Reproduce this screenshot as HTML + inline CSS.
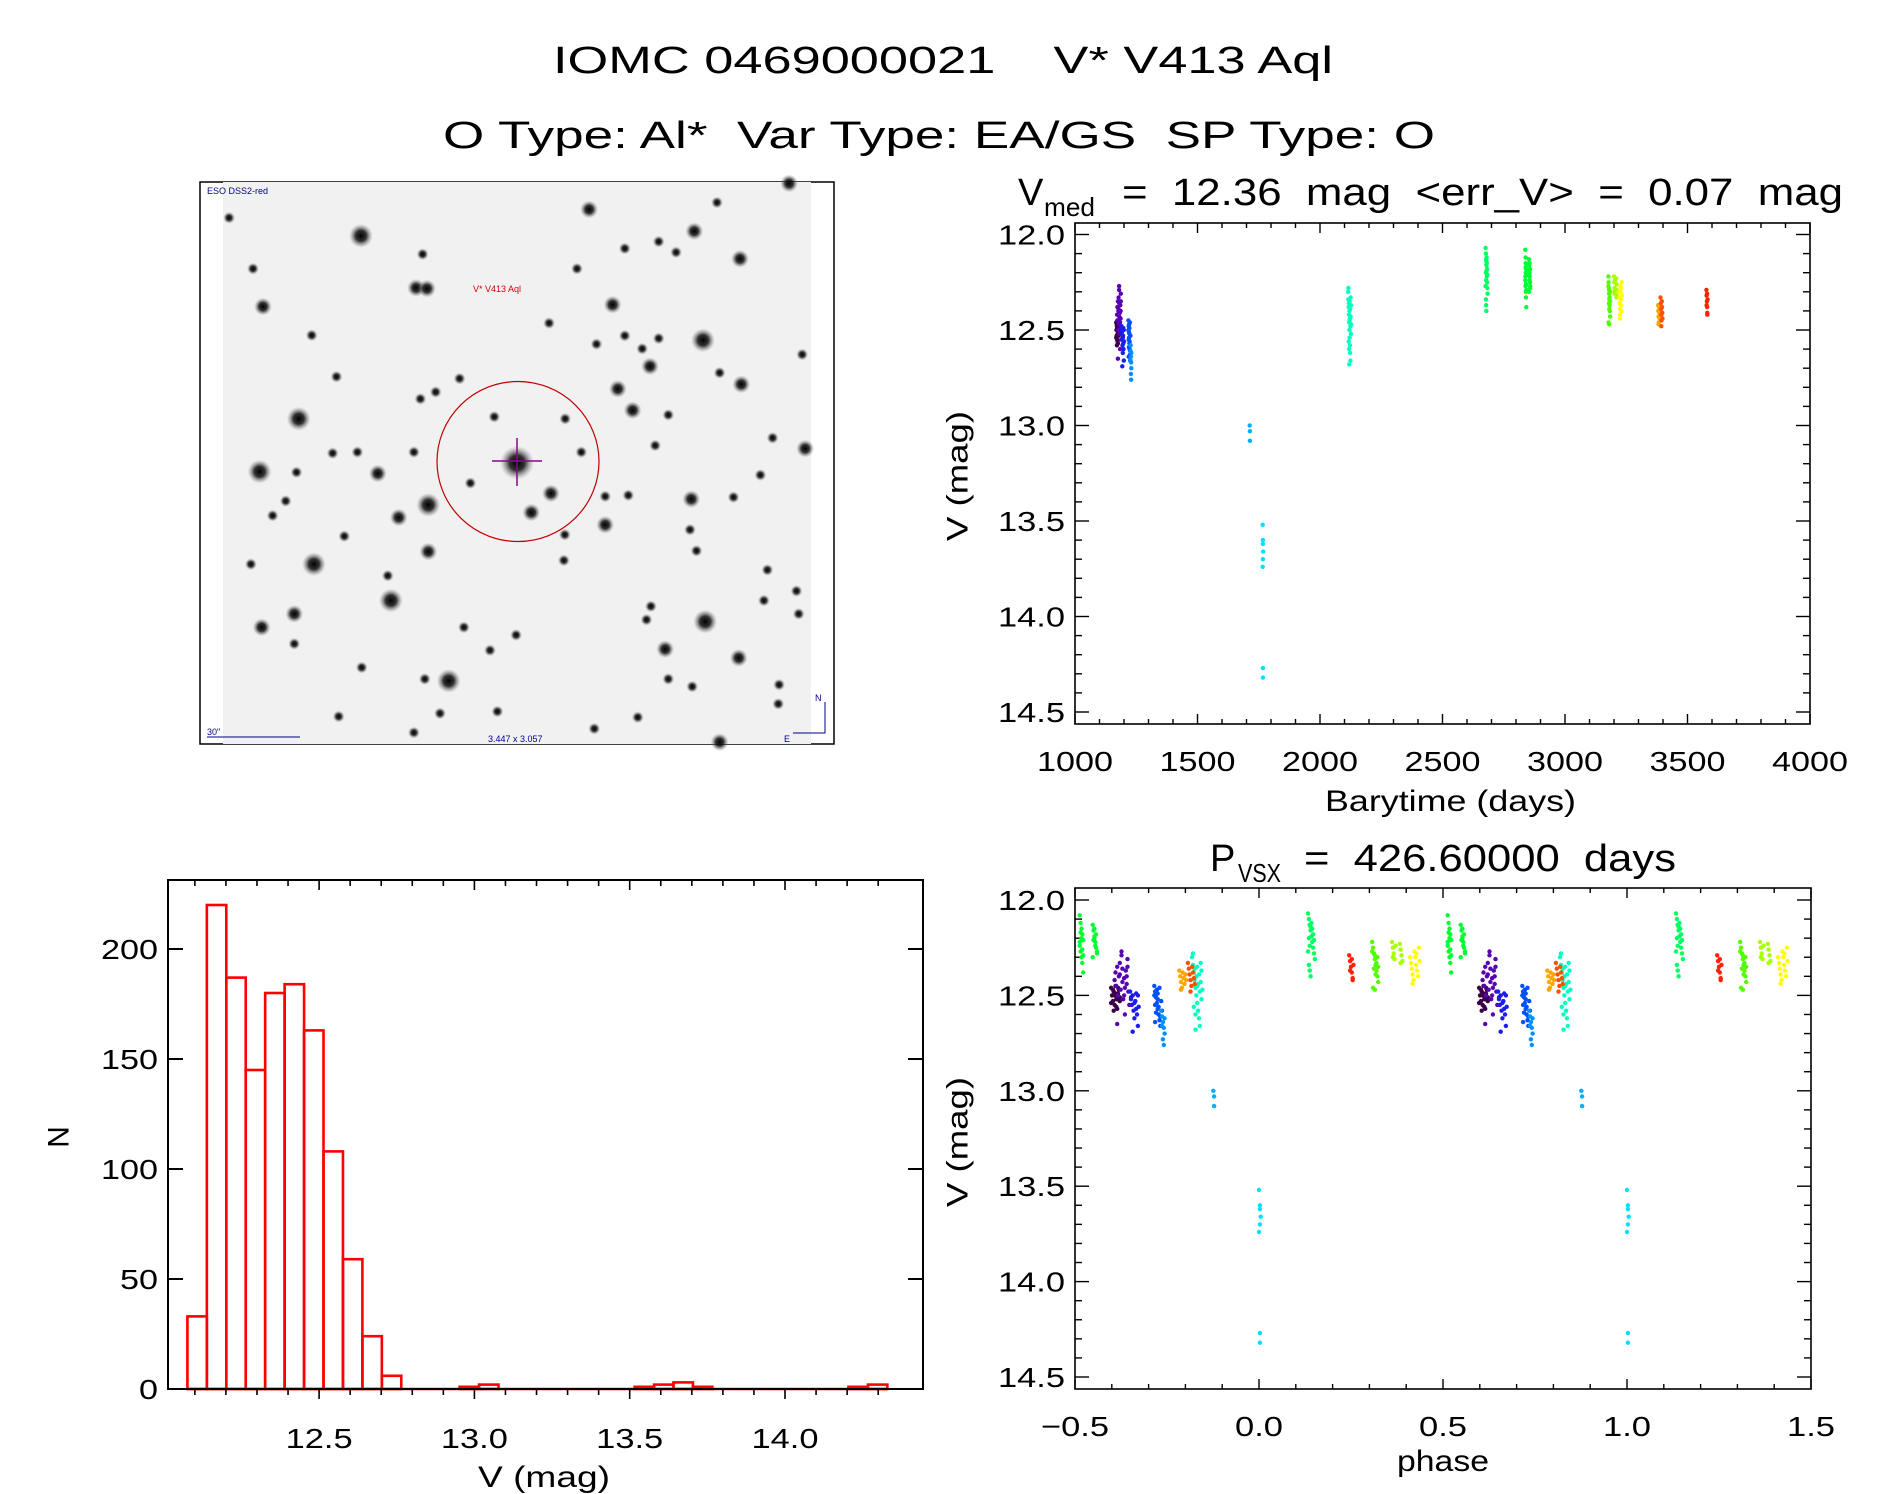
<!DOCTYPE html>
<html><head><meta charset="utf-8"><title>IOMC 0469000021 V* V413 Aql</title>
<style>html,body{margin:0;padding:0;background:#fff}svg{display:block}text{font-family:"Liberation Sans",sans-serif;fill:#000;white-space:pre}</style>
</head><body>
<svg id="fig" xmlns="http://www.w3.org/2000/svg" width="1889" height="1494" viewBox="0 0 1889 1494">
<defs>
<radialGradient id="star"><stop offset="0" stop-color="#000" stop-opacity="1"/><stop offset="0.45" stop-color="#111" stop-opacity="0.85"/><stop offset="1" stop-color="#888" stop-opacity="0"/></radialGradient>
</defs>
<rect width="1889" height="1494" fill="#fff"/>
<text x="553" y="73" font-size="38" textLength="780" lengthAdjust="spacingAndGlyphs" xml:space="preserve">IOMC 0469000021    V* V413 Aql</text>
<text x="443" y="148" font-size="38" textLength="992" lengthAdjust="spacingAndGlyphs" xml:space="preserve">O Type: Al*  Var Type: EA/GS  SP Type: O</text>

<g id="finder">
<rect x="200" y="182" width="634" height="562" fill="#fff" stroke="#000" stroke-width="1.5"/>
<rect x="223" y="182" width="588" height="562" fill="#f1f1f1"/>
<g id="stars"></g>
<ellipse cx="518" cy="461.5" rx="81" ry="80" fill="none" stroke="#c00000" stroke-width="1.2"/>
<line x1="492" y1="461" x2="542" y2="461" stroke="#900090" stroke-width="1.5"/>
<line x1="517" y1="438" x2="517" y2="486" stroke="#900090" stroke-width="1.5"/>
<text x="207" y="194" font-size="9" style="fill:#00008b">ESO DSS2-red</text>
<text x="473" y="292" font-size="9" style="fill:#d00000">V* V413 Aql</text>
<text x="207" y="735" font-size="9" style="fill:#00008b">30"</text>
<line x1="207" y1="737" x2="300" y2="737" stroke="#00008b" stroke-width="1"/>
<text x="488" y="742" font-size="9" style="fill:#00008b">3.447 x 3.057</text>
<text x="815" y="701" font-size="9" style="fill:#00008b">N</text>
<text x="784" y="742" font-size="9" style="fill:#00008b">E</text>
<polyline points="825,702 825,733 793,733" fill="none" stroke="#00008b" stroke-width="1"/>
</g>

<g id="lc"></g>
<g id="ph"></g>
<g id="hist"></g>
</svg>
<script>
// ---- light curve data: [barytime, V] per season ----
const s1 = [[1168,12.46],[1169,12.50],[1170,12.53],[1171,12.48],[1172,12.55],[1173,12.45],[1174,12.52],[1175,12.57],[1176,12.49],[1177,12.47],[1178,12.51],[1168,12.54],[1170,12.47],[1172,12.50],[1174,12.56],[1176,12.46],[1178,12.53],[1171,12.58],[1173,12.49],[1175,12.52]];
const s2 = [[1172,12.42],[1173,12.38],[1174,12.45],[1175,12.35],[1176,12.50],[1177,12.40],[1178,12.33],[1179,12.47],[1180,12.29],[1181,12.36],[1182,12.52],[1183,12.41],[1184,12.60],[1185,12.37],[1186,12.44],[1187,12.31],[1188,12.48],[1189,12.55],[1175,12.65],[1178,12.39],[1181,12.43],[1184,12.46],[1187,12.35],[1180,12.27],[1183,12.50],[1186,12.40]];
const s3 = [[1190,12.48],[1191,12.52],[1192,12.55],[1193,12.50],[1194,12.58],[1195,12.62],[1196,12.53],[1197,12.49],[1198,12.60],[1199,12.66],[1200,12.56],[1191,12.51],[1193,12.69],[1195,12.54],[1197,12.57],[1199,12.50]];
const s4 = [[1218,12.45],[1219,12.48],[1220,12.51],[1221,12.54],[1222,12.57],[1223,12.60],[1224,12.63],[1225,12.66],[1218,12.50],[1219,12.55],[1220,12.59],[1221,12.47],[1222,12.52],[1223,12.56],[1224,12.46],[1225,12.61],[1226,12.53],[1227,12.58],[1219,12.64],[1222,12.49]];
const s5 = [[1226,12.58],[1227,12.61],[1228,12.64],[1229,12.67],[1230,12.70],[1228,12.73],[1229,12.76],[1227,12.66],[1230,12.62]];
const s6 = [[1713,13.00],[1714,13.03],[1714,13.08]];
const s7 = [[1766,13.52],[1767,13.60],[1767,13.62],[1768,13.66],[1767,13.70],[1766,13.74],[1767,14.27],[1767,14.32]];
const s8 = [[2115,12.30],[2116,12.34],[2117,12.38],[2118,12.42],[2119,12.46],[2120,12.50],[2121,12.54],[2122,12.58],[2123,12.62],[2124,12.66],[2116,12.28],[2118,12.36],[2120,12.40],[2122,12.44],[2124,12.48],[2126,12.52],[2117,12.56],[2119,12.60],[2121,12.35],[2123,12.39],[2125,12.43],[2127,12.47],[2126,12.37],[2125,12.33],[2119,12.68],[2121,12.45]];
const s9 = [[2676,12.07],[2677,12.10],[2678,12.13],[2679,12.16],[2680,12.19],[2681,12.22],[2682,12.25],[2683,12.28],[2684,12.31],[2677,12.34],[2678,12.37],[2679,12.40],[2680,12.12],[2681,12.15],[2682,12.18],[2683,12.21],[2678,12.24],[2676,12.27],[2677,12.20],[2679,12.14]];
const s10 = [[2838,12.08],[2839,12.12],[2840,12.15],[2841,12.18],[2842,12.21],[2838,12.24],[2839,12.27],[2840,12.30],[2841,12.33],[2842,12.38],[2840,12.20],[2839,12.17],[2841,12.26],[2838,12.22],[2842,12.29],[2853,12.13],[2854,12.16],[2855,12.19],[2856,12.22],[2857,12.25],[2858,12.28],[2853,12.30],[2855,12.15],[2857,12.18],[2854,12.21],[2856,12.24],[2858,12.27],[2855,12.20]];
const s11 = [[3177,12.22],[3178,12.25],[3179,12.28],[3180,12.31],[3181,12.34],[3182,12.37],[3183,12.40],[3184,12.43],[3178,12.46],[3180,12.29],[3182,12.33],[3179,12.36],[3181,12.39],[3183,12.30],[3177,12.27],[3184,12.35],[3180,12.47]];
const s12 = [[3200,12.22],[3201,12.25],[3202,12.28],[3203,12.31],[3204,12.24],[3209,12.23],[3210,12.26],[3211,12.29],[3212,12.32],[3210,12.33],[3201,12.30]];
const s13 = [[3221,12.30],[3222,12.33],[3223,12.36],[3224,12.39],[3225,12.42],[3226,12.27],[3227,12.30],[3228,12.34],[3229,12.37],[3230,12.40],[3231,12.25],[3232,12.32],[3224,12.44],[3228,12.28]];
const s14 = [[3380,12.37],[3381,12.40],[3382,12.43],[3383,12.46],[3384,12.38],[3385,12.41],[3386,12.44],[3387,12.39],[3388,12.42],[3382,12.47]];
const s15 = [[3390,12.33],[3391,12.36],[3392,12.39],[3393,12.42],[3394,12.45],[3395,12.35],[3396,12.38],[3397,12.41],[3398,12.44],[3393,12.48]];
const s16 = [[3577,12.29],[3578,12.32],[3579,12.35],[3580,12.38],[3581,12.41],[3582,12.34],[3578,12.37],[3580,12.31],[3581,12.42]];
const seasons = [s1,s2,s3,s4,s5,s6,s7,s8,s9,s10,s11,s12,s13,s14,s15,s16];
const seasonColors = ["#3c0048","#5a00b4","#1c1cf0","#0050ff","#0090ff","#00b0ff","#00e0ff","#00ffc0","#00ff60","#00ff30","#50ff00","#a8ff00","#ffff00","#ffa500","#ff5000","#ff2000"];
const period = [426.6];
const epoch = [1766];
// ---- histogram data ----
const histStart = [12.076];
const histWidth = [0.0626];
const histCounts = [33,220,187,145,180,184,163,108,59,24,6,0,0,0,1,2,0,0,0,0,0,0,0,1,2,3,1,0,0,0,0,0,0,0,1,2];
// ---- tick labels ----
const lcXTicks = ["1000","1500","2000","2500","3000","3500","4000"];
const magTicks = ["12.0","12.5","13.0","13.5","14.0","14.5"];
const phXTicks = ["-0.5","0.0","0.5","1.0","1.5"];
const histXTicks = ["12.5","13.0","13.5","14.0"];
const histYTicks = ["0","50","100","150","200"];
// ---- finder chart stars (zoom-space coords, size class) ----
const starList = [[393,172,3],[918,103,2],[1160,160,2],[1212,85,1],[1378,35,2],[535,220,1],[1265,232,2],[520,308,2],[545,310,2],[168,357,2],[972,352,2],[826,400,1],[1180,445,3],[1408,482,1],[280,432,1],[1058,513,2],[984,572,2],[1268,560,2],[1018,628,2],[1100,640,1],[530,598,1],[565,580,1],[250,650,3],[337,540,1],[1340,700,1],[1415,728,2],[515,737,1],[385,737,1],[328,740,1],[160,788,3],[432,793,2],[245,790,1],[752,765,4],[645,818,1],[830,845,2],[900,737,1],[548,875,3],[480,908,2],[785,895,2],[955,853,1],[1008,850,1],[1153,860,2],[1312,797,1],[1250,855,1],[955,927,2],[862,953,1],[548,997,2],[355,957,1],[220,865,1],[190,903,1],[285,1030,3],[165,1195,2],[240,1160,2],[240,1238,1],[462,1125,3],[1185,1180,3],[1093,1252,2],[1262,1275,2],[1165,995,1],[1150,940,1],[595,1335,3],[540,1330,1],[395,1300,1],[1100,1330,1],[1155,1350,1],[515,1470,1],[342,1428,1],[1218,1495,2],[1353,1395,1],[1328,1045,1],[1060,1140,1],[1320,1125,1],[1400,1160,1],[90,125,1],[145,258,1],[890,258,1],[1000,205,1],[1078,187,1],[1118,215,1],[1040,467,1],[1078,440,1],[1000,433,1],[1218,530,1],[935,455,1],[620,545,1],[700,645,1],[863,650,1],[1070,720,1],[630,1195,1],[750,1215,1],[860,1020,1],[707,1415,1],[930,1460,1],[575,1420,1],[690,1255,1],[140,1030,1],[455,1060,1],[1050,1175,1],[1395,1100,1],[1355,1345,1],[1030,1430,1]];

const NS = "http://www.w3.org/2000/svg";
function mk(tag, attrs, parent){const e=document.createElementNS(NS,tag);for(const k in attrs)e.setAttribute(k,attrs[k]);parent.appendChild(e);return e;}
function labLen(s){let n=0;for(const c of s){n+= (c==='.')?10:(c==='-'?20:19);}return n;}

// finder stars
const starG=document.getElementById('stars');
const starR=[0,6,9,12,17];
starList.forEach(s=>{
  const c=mk('circle',{cx:(s[0]/2.3+190).toFixed(1),cy:(s[1]/2.613+170).toFixed(1),r:starR[s[2]],fill:'url(#star)'},starG);
  
  
});

function magFrame(g,x0,x1,top,bottom,y12,pxPerMag,xMajor,xMinor){
  const f=mk('rect',{x:x0,y:top,width:x1-x0,height:bottom-top,fill:'none',stroke:'#000','stroke-width':1.6},g);
  
  
  const yv=v=>y12+(v-12)*pxPerMag;
  for(let i=0;i<=25;i++){const v=12+i*0.1;const y=yv(v);const L=(i%5===0)?14:7;
    mk('line',{x1:x0,y1:y,x2:x0+L,y2:y,stroke:'#000','stroke-width':1.4},g);
    mk('line',{x1:x1,y1:y,x2:x1-L,y2:y,stroke:'#000','stroke-width':1.4},g);}
  xMinor.forEach(x=>{mk('line',{x1:x,y1:bottom,x2:x,y2:bottom-5,stroke:'#000','stroke-width':1.4},g);mk('line',{x1:x,y1:top,x2:x,y2:top+5,stroke:'#000','stroke-width':1.4},g);});
  xMajor.forEach(x=>{mk('line',{x1:x,y1:bottom,x2:x,y2:bottom-10,stroke:'#000','stroke-width':1.4},g);mk('line',{x1:x,y1:top,x2:x,y2:top+10,stroke:'#000','stroke-width':1.4},g);});
  magTicks.forEach(s=>{const t=mk('text',{x:x0-10,y:yv(parseFloat(s))+10,'font-size':28,'text-anchor':'end',textLength:labLen(s),lengthAdjust:'spacingAndGlyphs'},g);t.textContent=s;
    
    });
  return yv;
}

// light curve
const lc=document.getElementById('lc');
const xT=t=>1075+(t-1000)/3000*735;
{
  const maj=[],mn=[];for(let t=1000;t<=4000;t+=100){(t%500===0?maj:mn).push(xT(t));}
  const yT=magFrame(lc,1075,1810,223,724,234.5,191,maj,mn);
  lcXTicks.forEach(s=>{const t=mk('text',{x:xT(+s),y:771,'font-size':28,'text-anchor':'middle',textLength:labLen(s),lengthAdjust:'spacingAndGlyphs'},lc);t.textContent=s;
    
    });
  seasons.forEach((pts,i)=>pts.forEach(p=>{const c=mk('circle',{cx:xT(p[0]).toFixed(1),cy:yT(p[1]).toFixed(1),r:2.2,fill:seasonColors[i]},lc);
    
    }));
  const ti=mk('text',{x:1018,y:205,'font-size':38},lc);ti.textContent='V';
  
  
  const ts=mk('text',{x:1044,y:216,'font-size':26,textLength:51,lengthAdjust:'spacingAndGlyphs'},lc);ts.textContent='med';
  
  
  const tr=mk('text',{x:1122,y:205,'font-size':38,textLength:721,lengthAdjust:'spacingAndGlyphs'},lc);tr.textContent='=  12.36  mag  <err_V>  =  0.07  mag';
  
  
  const xl=mk('text',{x:1325,y:811,'font-size':30,textLength:251,lengthAdjust:'spacingAndGlyphs'},lc);xl.textContent='Barytime (days)';
  
  
  const yl=mk('text',{x:0,y:0,'font-size':30,'text-anchor':'middle','dominant-baseline':'central',textLength:130,lengthAdjust:'spacingAndGlyphs',transform:'translate(958,476) rotate(-90)'},lc);yl.textContent='V (mag)';
  
  
}

// phase plot
const ph=document.getElementById('ph');
const xP=p=>1075+(p+0.5)/2*736;
{
  const maj=[],mn=[];for(let i=0;i<=20;i++){(i%5===0?maj:mn).push(xP(-0.5+i*0.1));}
  const yP=magFrame(ph,1075,1811,888,1389,900,190.8,maj,mn);
  phXTicks.forEach(s=>{const t=mk('text',{x:xP(+s),y:1436,'font-size':28,'text-anchor':'middle',textLength:labLen(s),lengthAdjust:'spacingAndGlyphs'},ph);t.textContent=s.replace('-','\u2212');
    
    });
  seasons.forEach((pts,i)=>pts.forEach(p=>{
    let f=(p[0]-epoch[0])/period[0];f=f-Math.floor(f);if(f>=0.5)f-=1;
    [f,f+1].forEach(q=>{const c=mk('circle',{cx:xP(q).toFixed(1),cy:yP(p[1]).toFixed(1),r:2.2,fill:seasonColors[i]},ph);
      
      });
  }));
  const ti=mk('text',{x:1210,y:871,'font-size':38},ph);ti.textContent='P';
  
  
  const ts=mk('text',{x:1238,y:882,'font-size':26,textLength:43,lengthAdjust:'spacingAndGlyphs'},ph);ts.textContent='VSX';
  
  
  const tr=mk('text',{x:1304,y:871,'font-size':38,textLength:372,lengthAdjust:'spacingAndGlyphs'},ph);tr.textContent='=  426.60000  days';
  
  
  const xl=mk('text',{x:1443,y:1471,'font-size':30,'text-anchor':'middle',textLength:92,lengthAdjust:'spacingAndGlyphs'},ph);xl.textContent='phase';
  
  
  const yl=mk('text',{x:0,y:0,'font-size':30,'text-anchor':'middle','dominant-baseline':'central',textLength:130,lengthAdjust:'spacingAndGlyphs',transform:'translate(958,1142) rotate(-90)'},ph);yl.textContent='V (mag)';
  
  
}

// histogram
const hg=document.getElementById('hist');
const xH=m=>319.1+(m-12.5)*310.6;
const yH=n=>1389-n*2.2;
{
  const last=histStart[0]+histCounts.length*histWidth[0];
  const base=mk('line',{x1:xH(histStart[0]),y1:yH(0),x2:xH(last),y2:yH(0),stroke:'#ff0000','stroke-width':2.6},hg);
  
  
  histCounts.forEach((n,k)=>{if(n<=0)return;
    const a=xH(histStart[0]+k*histWidth[0]),b=xH(histStart[0]+(k+1)*histWidth[0]);
    const r=mk('rect',{x:a,y:yH(n),width:b-a,height:yH(0)-yH(n),fill:'none',stroke:'#ff0000','stroke-width':2.6},hg);
    
    });
  const f=mk('rect',{x:168,y:880,width:755,height:509,fill:'none',stroke:'#000','stroke-width':2},hg);
  
  
  for(let i=1;i<=23;i++){const m=12+i*0.1;if(m>14.44)break;const x=xH(m);const L=(i%5===0)?10:6;
    mk('line',{x1:x,y1:1389,x2:x,y2:1389+L,stroke:'#000','stroke-width':1.6},hg);
    mk('line',{x1:x,y1:880,x2:x,y2:880+L,stroke:'#000','stroke-width':1.6},hg);}
  histYTicks.forEach(s=>{const y=yH(+s);
    mk('line',{x1:168,y1:y,x2:183,y2:y,stroke:'#000','stroke-width':2},hg);
    mk('line',{x1:923,y1:y,x2:908,y2:y,stroke:'#000','stroke-width':2},hg);
    const t=mk('text',{x:158,y:y+10,'font-size':28,'text-anchor':'end',textLength:labLen(s),lengthAdjust:'spacingAndGlyphs'},hg);t.textContent=s;
    
    });
  histXTicks.forEach(s=>{const t=mk('text',{x:xH(+s),y:1448,'font-size':28,'text-anchor':'middle',textLength:labLen(s),lengthAdjust:'spacingAndGlyphs'},hg);t.textContent=s;
    
    });
  const xl=mk('text',{x:544,y:1487,'font-size':30,'text-anchor':'middle',textLength:132,lengthAdjust:'spacingAndGlyphs'},hg);xl.textContent='V (mag)';
  
  
  const yl=mk('text',{x:0,y:0,'font-size':30,'text-anchor':'middle','dominant-baseline':'central',transform:'translate(59,1137) rotate(-90)'},hg);yl.textContent='N';
  
  
}
</script>
</body></html>
